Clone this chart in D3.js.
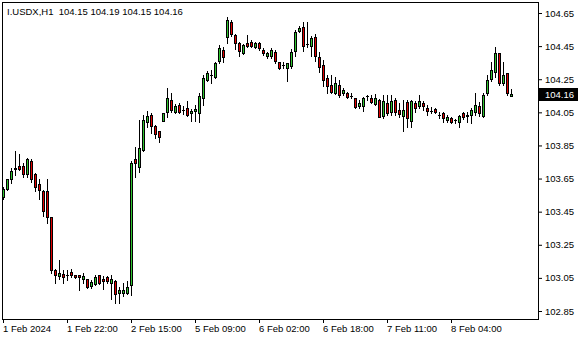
<!DOCTYPE html>
<html>
<head>
<meta charset="utf-8">
<script src="https://cdn.jsdelivr.net/npm/d3@7"></script>
<style>
body { margin: 0; background: #fff; }
svg text { font-family: Tahoma, "Liberation Sans", Arial, sans-serif; font-size: 9.5px; fill: #000; }
</style>
</head>
<body>
<div id="chart"></div>
<script>
// I.USDX hourly candles, 1 Feb - 8 Feb 2024
const symbol = 'I.USDX,H1'

const open = [103.537,103.589,103.649,103.710,103.726,103.726,103.678,103.754,103.678,103.617,
  103.573,103.573,103.416,103.098,103.061,103.074,103.066,103.086,103.066,103.066,
  103.042,103.042,103.001,103.013,103.066,103.042,103.054,103.021,103.033,102.961,
  102.961,102.961,103.005,103.766,103.722,103.823,103.992,104.034,103.968,103.937,
  103.999,104.054,104.125,104.054,104.094,104.064,104.074,104.044,104.060,104.044,
  104.135,104.245,104.276,104.265,104.362,104.427,104.503,104.594,104.517,104.471,
  104.410,104.467,104.473,104.443,104.467,104.427,104.393,104.392,104.413,104.352,
  104.335,104.320,104.332,104.422,104.543,104.564,104.463,104.453,104.503,104.382,
  104.336,104.259,104.215,104.165,104.215,104.165,104.165,104.149,104.135,104.090,
  104.090,104.148,104.135,104.099,104.125,104.030,104.105,104.054,104.125,104.064,
  104.028,104.114,103.999,104.108,104.088,104.105,104.076,104.061,104.068,104.035,
  104.044,104.004,104.014,104.004,103.993,104.044,104.028,104.034,104.054,104.088,
  104.028,104.165,104.250,104.295,104.407,104.225,104.286,104.15]

const high = [103.601,103.649,103.714,103.815,103.798,103.742,103.774,103.770,103.682,103.649,
  103.581,103.646,103.420,103.102,103.158,103.098,103.098,103.102,103.069,103.069,
  103.078,103.045,103.037,103.066,103.069,103.061,103.061,103.066,103.037,102.993,
  103.021,103.029,103.754,103.841,104.004,104.034,104.060,104.044,103.974,103.940,
  104.046,104.195,104.165,104.099,104.105,104.088,104.120,104.068,104.094,104.165,
  104.276,104.300,104.306,104.356,104.457,104.443,104.624,104.608,104.523,104.477,
  104.463,104.517,104.487,104.477,104.475,104.437,104.417,104.437,104.427,104.356,
  104.356,104.347,104.433,104.547,104.573,104.594,104.597,104.513,104.523,104.416,
  104.366,104.276,104.276,104.265,104.245,104.195,104.171,104.165,104.138,104.125,
  104.144,104.155,104.155,104.159,104.131,104.155,104.155,104.155,104.137,104.105,
  104.125,104.125,104.125,104.120,104.155,104.120,104.094,104.084,104.074,104.054,
  104.054,104.034,104.024,104.008,104.034,104.054,104.054,104.074,104.165,104.114,
  104.165,104.276,104.356,104.443,104.410,104.356,104.290,104.19]

const low = [103.525,103.581,103.625,103.673,103.702,103.658,103.661,103.629,103.573,103.525,
  103.424,103.383,103.081,103.021,103.042,103.021,103.037,103.054,103.049,102.977,
  103.017,102.989,102.989,103.005,103.013,102.981,103.021,102.924,102.900,102.900,
  102.941,102.953,102.945,103.660,103.690,103.817,103.963,103.923,103.893,103.873,
  103.997,104.024,104.054,104.044,104.044,104.040,104.028,103.999,103.999,103.993,
  104.094,104.239,104.225,104.256,104.346,104.356,104.467,104.511,104.431,104.390,
  104.402,104.443,104.443,104.437,104.427,104.396,104.376,104.380,104.346,104.312,
  104.316,104.241,104.316,104.392,104.537,104.422,104.446,104.392,104.362,104.295,
  104.211,104.165,104.165,104.159,104.144,104.155,104.138,104.138,104.078,104.074,
  104.058,104.125,104.105,104.094,104.022,104.018,104.034,104.034,104.034,104.020,
  103.939,103.960,103.960,104.054,104.074,104.064,104.034,104.044,104.044,104.014,
  103.993,103.993,103.987,103.983,103.960,104.008,103.993,103.983,104.034,104.028,
  104.024,104.155,104.241,104.265,104.215,104.215,104.155,104.15]

const close = [103.585,103.646,103.694,103.714,103.710,103.678,103.766,103.649,103.601,103.581,
  103.452,103.420,103.098,103.069,103.081,103.054,103.069,103.069,103.054,103.054,
  103.061,102.993,103.025,103.054,103.021,103.033,103.033,103.042,102.953,102.977,
  102.977,102.993,103.742,103.742,103.833,104.004,104.028,103.968,103.919,103.903,
  104.044,104.135,104.064,104.088,104.054,104.066,104.032,104.060,104.068,104.149,
  104.256,104.289,104.274,104.350,104.437,104.382,104.608,104.523,104.467,104.422,
  104.457,104.453,104.453,104.471,104.437,104.407,104.408,104.427,104.362,104.320,
  104.336,104.346,104.413,104.533,104.558,104.453,104.462,104.497,104.392,104.322,
  104.245,104.207,104.175,104.225,104.155,104.185,104.144,104.148,104.084,104.108,
  104.135,104.149,104.111,104.138,104.024,104.119,104.044,104.119,104.054,104.040,
  104.064,104.014,104.120,104.074,104.117,104.088,104.060,104.060,104.052,104.034,
  104.014,104.024,103.993,104.005,104.028,104.024,104.034,104.064,104.094,104.044,
  104.155,104.245,104.306,104.410,104.229,104.276,104.165,104.16]

const priceTicks = [102.85, 103.05, 103.25, 103.45, 103.65, 103.85, 104.05, 104.25, 104.45, 104.65]
const timeTickIndex = [0, 16, 32, 48, 64, 80, 96, 112]
const timeTickLabels = ['1 Feb 2024', '1 Feb 22:00', '2 Feb 15:00', '5 Feb 09:00',
  '6 Feb 02:00', '6 Feb 18:00', '7 Feb 11:00', '8 Feb 04:00']

const width = 580, height = 340
const frame = {left: 2, top: 2, right: 538, bottom: 319}
const bull = '#2fc42f', bear = '#e00000'

const svg = d3.select('#chart').append('svg')
    .attr('width', width)
    .attr('height', height)

// one bar every 4px, chart shifted left of the price scale
const n = open.length
const x = d3.scaleLinear().domain([0, n - 1]).range([3.5, 3.5 + 4 * (n - 1)])
const y = d3.scaleLinear().domain([102.85, 104.65]).range([311, 13])

// frame
svg.append('rect')
    .attr('x', frame.left + 0.5)
    .attr('y', frame.top + 0.5)
    .attr('width', frame.right - frame.left)
    .attr('height', frame.bottom - frame.top)
    .attr('fill', 'none')
    .attr('stroke', '#000')

// price axis on the right
let yAxis = svg.append('g')
    .attr('transform', 'translate(' + frame.right + ',0)')
    .call(d3.axisRight(y).tickValues(priceTicks).tickSize(4).tickPadding(3)
        .tickFormat(d3.format('.2f')))
yAxis.select('.domain').remove()

// time axis
let xAxis = svg.append('g')
    .attr('transform', 'translate(0,' + frame.bottom + ')')
    .call(d3.axisBottom(x).tickValues(timeTickIndex).tickSize(4).tickPadding(2).offset(0)
        .tickFormat((d, i) => timeTickLabels[i]))
xAxis.select('.domain').remove()
xAxis.selectAll('text').attr('text-anchor', 'start').attr('x', -0.5)

svg.selectAll('.tick text').style('font-family', null).style('font-size', null)
svg.selectAll('.tick text').attr('font-family', null).attr('font-size', null).attr('fill', '#000')

// candles
const idx = d3.range(n)
const candles = svg.append('g')

candles.selectAll('line')
    .data(idx)
    .join('line')
    .attr('x1', i => x(i))
    .attr('x2', i => x(i))
    .attr('y1', i => Math.round(y(high[i])))
    .attr('y2', i => Math.round(y(low[i])) + 1)
    .attr('stroke', '#000')

candles.selectAll('rect')
    .data(idx)
    .join('rect')
    .attr('x', i => x(i) - 1)
    .attr('y', i => Math.round(y(Math.max(open[i], close[i]))) + 0.5)
    .attr('width', 2)
    .attr('height', i => Math.max(0.01,
        Math.round(y(Math.min(open[i], close[i]))) - Math.round(y(Math.max(open[i], close[i])))))
    .attr('fill', i => close[i] >= open[i] ? bull : bear)
    .attr('stroke', '#000')

// last price marker
const last = close[n - 1]
svg.append('rect')
    .attr('x', frame.right + 1)
    .attr('y', Math.round(y(last)) - 6)
    .attr('width', 39)
    .attr('height', 13)
    .attr('fill', '#000')
svg.append('text')
    .attr('x', frame.right + 7)
    .attr('y', Math.round(y(last)) + 0.5)
    .attr('dy', '0.32em')
    .style('fill', '#fff')
    .text(last.toFixed(2))

// title with OHLC of the last bar
svg.append('text')
    .attr('x', 7)
    .attr('y', 15)
    .text(symbol + '  ' + [open[n - 1], high[n - 1], low[n - 1], close[n - 1]].map(v => v.toFixed(2)).join(' '))
    .attr('xml:space', 'preserve')
    .style('white-space', 'pre')
</script>
</body>
</html>
